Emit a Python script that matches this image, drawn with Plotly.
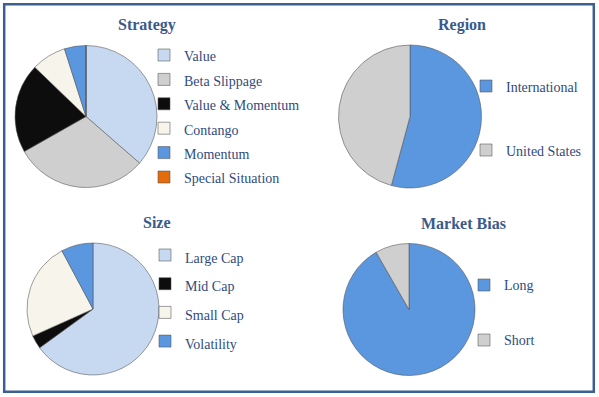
import plotly.graph_objects as go

W, H = 599, 397

# ---------------- data ----------------
strategy_labels = ["Value", "Beta Slippage", "Value & Momentum", "Contango", "Momentum", "Special Situation"]
strategy_values = [36.4, 30.4, 20.4, 7.9, 4.9, 0.0]

region_labels = ["International", "United States"]
region_values = [54.2, 45.8]

size_labels = ["Large Cap", "Mid Cap", "Small Cap", "Volatility"]
size_values = [65.0, 3.3, 23.9, 7.8]

bias_labels = ["Long", "Short"]
bias_values = [91.7, 8.3]

titles = ["Strategy", "Region", "Size", "Market Bias"]

# ---------------- style ----------------
LIGHT_BLUE = "#C6D9F1"
GRAY = "#CFCFCF"
BLACK = "#0D0D0D"
CREAM = "#F7F5EB"
BLUE = "#5B97DF"
ORANGE = "#E46C0A"

strategy_colors = [LIGHT_BLUE, GRAY, BLACK, CREAM, BLUE, ORANGE]
region_colors = [BLUE, GRAY]
size_colors = [LIGHT_BLUE, BLACK, CREAM, BLUE]
bias_colors = [BLUE, GRAY]

FONT = "Liberation Serif"
TITLE_COLOR = "#3A5A8C"
TEXT_COLOR = "#2F4B7C"
TEXT_PX = 14


def pie_domain(cx, cy, r):
    return dict(x=[(cx - r) / W, (cx + r) / W], y=[1 - (cy + r) / H, 1 - (cy - r) / H])


def legend_spec(left_px, first_center_px, spacing_px, lines):
    fs = ((spacing_px - 3) / lines) / 1.3
    top = first_center_px - 5 - spacing_px / 2
    return dict(x=left_px / W, y=1 - top / H, xanchor="left", yanchor="top",
                font=dict(family=FONT, size=fs, color=TEXT_COLOR),
                bgcolor="rgba(0,0,0,0)", borderwidth=0, traceorder="normal")


def fmt(labels, padded=False):
    out = []
    for l in labels:
        s = f"<span style='font-size:{TEXT_PX}px'>{l}</span>"
        if padded:
            s = "<br>" + s + "<br>"
        out.append(s)
    return out


def pie(labels, values, colors, domain, legend, padded=False):
    return go.Pie(
        labels=fmt(labels, padded), values=values, sort=False, direction="clockwise",
        rotation=0, textinfo="none", hoverinfo="percent",
        marker=dict(colors=colors, line=dict(color="rgba(80,80,80,0.55)", width=1)),
        domain=domain, legend=legend, showlegend=True,
    )


fig = go.Figure()
fig.add_trace(pie(strategy_labels, strategy_values, strategy_colors, pie_domain(86, 116.5, 71), "legend"))
fig.add_trace(pie(region_labels, region_values, region_colors, pie_domain(410, 116.5, 71.5), "legend2", padded=True))
fig.add_trace(pie(size_labels, size_values, size_colors, pie_domain(93, 309, 66), "legend3"))
fig.add_trace(pie(bias_labels, bias_values, bias_colors, pie_domain(409, 309.5, 66), "legend4", padded=True))

title_pos = [(147, 24.5), (462, 24.5), (157, 222.5), (463, 223)]
annotations = []
for t, (x, y) in zip(titles, title_pos):
    annotations.append(dict(text=f"<b>{t}</b>", x=x / W, y=1 - y / H, xref="paper", yref="paper",
                            xanchor="center", yanchor="middle", showarrow=False,
                            font=dict(family=FONT, size=16, color=TITLE_COLOR)))

fig.update_layout(
    width=W, height=H,
    margin=dict(l=0, r=0, t=0, b=0, autoexpand=False),
    paper_bgcolor="white", plot_bgcolor="white",
    legend=legend_spec(144, 55, 24.4, 1),
    legend2=legend_spec(466, 86, 64, 3),
    legend3=legend_spec(145, 255, 28.7, 1),
    legend4=legend_spec(464, 285, 55, 3),
    annotations=annotations,
    shapes=[dict(type="rect", xref="paper", yref="paper",
                 x0=4.2 / W, x1=593.8 / W, y0=1 - 391.8 / H, y1=1 - 4.2 / H,
                 line=dict(color="#3B5F92", width=2.5), fillcolor="rgba(0,0,0,0)")],
)

fig.write_html("out.html", config={"displayModeBar": False},
               post_script="document.body.style.margin='0';document.body.style.overflow='hidden';")
